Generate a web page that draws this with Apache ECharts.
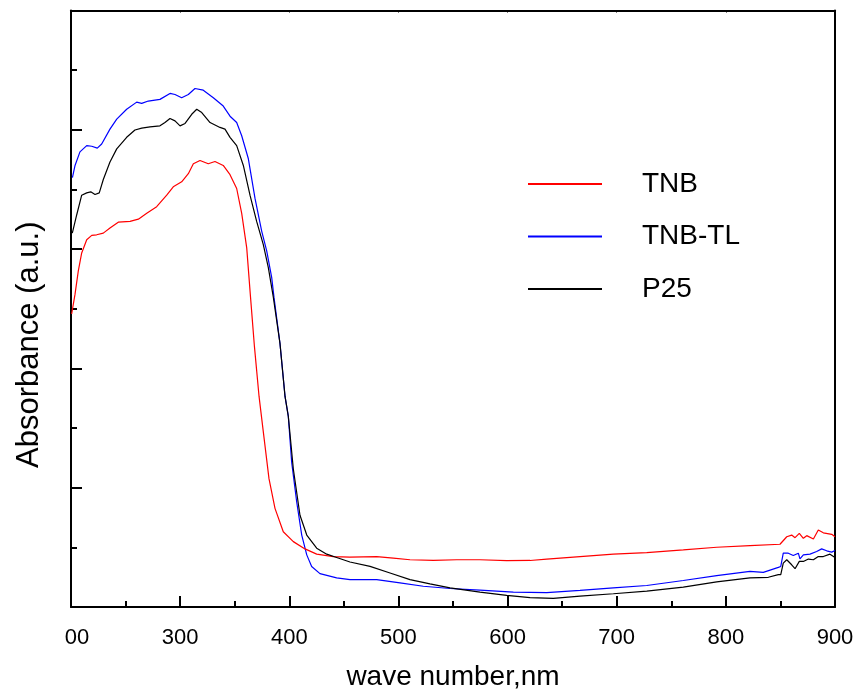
<!DOCTYPE html>
<html>
<head>
<meta charset="utf-8">
<script src="https://cdn.jsdelivr.net/npm/echarts@6/dist/echarts.min.js"></script>
<style>
html,body{margin:0;padding:0;background:#fff;}
#chart{width:858px;height:696px;}
</style>
</head>
<body>
<div id="chart"></div>
<script>
// ---- Data (wavelength in nm, absorbance in arbitrary units) ----
const seriesNames = ['TNB', 'TNB-TL', 'P25'];
const xTickLabels = ['00', '300', '400', '500', '600', '700', '800', '900'];

const wlTNB = [200.6,203.7,206.7,209.8,214.4,219.0,223.5,229.6,235.7,243.3,254.1,261.7,269.4,278.5,287.7,293.7,301.4,307.5,312.1,318.2,325.8,331.9,339.5,345.7,351.8,356.4,361.0,364.5,368.1,372.3,375.9,381.4,386.9,394.5,403.7,414.4,425.1,440.3,455.6,480.1,495.3,510.6,532.0,553.4,574.7,599.2,620.6,635.9,666.4,696.9,727.5,761.0,791.6,822.1,849.6,855.8,860.3,863.4,867.3,871.0,874.1,880.2,884.7,889.3,897.0,900];
const absTNB = [2.456,2.622,2.817,2.968,3.079,3.115,3.120,3.134,3.176,3.226,3.232,3.251,3.300,3.356,3.452,3.522,3.564,3.632,3.715,3.743,3.715,3.734,3.701,3.624,3.508,3.300,3.010,2.595,2.180,1.765,1.491,1.076,0.827,0.631,0.548,0.487,0.443,0.423,0.418,0.423,0.410,0.396,0.390,0.396,0.396,0.388,0.390,0.402,0.423,0.443,0.456,0.479,0.501,0.515,0.526,0.589,0.603,0.581,0.617,0.576,0.598,0.570,0.645,0.622,0.609,0.589];

const wlTNBTL = [201.3,203.7,208.2,214.4,219.0,224.1,228.1,235.7,241.9,251.0,260.2,264.8,270.8,281.5,290.7,295.3,301.4,307.5,313.6,321.2,330.4,339.5,345.7,351.8,356.4,362.5,368.6,374.7,379.3,383.9,386.0,391.5,396.1,399.1,402.2,406.8,411.4,416.0,420.5,428.1,443.4,455.6,480.1,501.4,522.8,547.3,574.7,605.3,635.9,666.4,696.9,727.5,761.0,791.6,822.1,834.3,848.1,850.3,852.6,857.2,861.8,866.4,867.9,871.0,877.1,883.2,887.8,892.4,897.0,900];
const absTNBTL = [3.599,3.701,3.815,3.867,3.862,3.846,3.881,4.006,4.089,4.172,4.232,4.222,4.241,4.255,4.305,4.296,4.269,4.296,4.346,4.332,4.269,4.199,4.114,4.061,3.950,3.757,3.425,3.151,2.985,2.761,2.595,2.207,1.765,1.599,1.212,0.880,0.603,0.437,0.340,0.280,0.244,0.230,0.230,0.202,0.174,0.155,0.141,0.124,0.120,0.139,0.161,0.180,0.222,0.263,0.299,0.290,0.332,0.340,0.451,0.451,0.432,0.451,0.404,0.437,0.443,0.465,0.487,0.471,0.460,0.473];

const wlP25 = [201.2,205.2,209.8,214.4,218.1,222.0,225.9,229.6,235.7,241.9,251.0,258.6,264.8,272.4,281.5,286.1,290.7,295.3,299.9,304.5,310.6,315.2,319.8,327.4,336.5,341.1,345.7,351.8,357.9,364.0,370.1,376.2,380.8,385.4,391.5,396.1,399.1,403.7,409.8,416.0,425.1,434.3,443.4,455.6,474.0,492.3,510.6,528.9,547.3,574.7,599.2,620.6,641.9,666.4,696.9,727.5,761.0,791.6,822.1,838.9,848.1,850.3,852.6,855.8,860.3,863.4,867.3,871.0,875.6,880.2,884.7,889.3,895.4,900];
const absP25 = [3.134,3.286,3.452,3.471,3.480,3.458,3.471,3.583,3.730,3.840,3.937,3.998,4.014,4.025,4.033,4.061,4.095,4.075,4.033,4.053,4.130,4.172,4.144,4.061,4.020,4.006,3.937,3.867,3.701,3.452,3.232,3.037,2.844,2.595,2.207,1.765,1.599,1.157,0.769,0.603,0.493,0.443,0.415,0.377,0.340,0.285,0.230,0.194,0.161,0.124,0.097,0.078,0.072,0.091,0.111,0.133,0.166,0.211,0.244,0.249,0.271,0.271,0.368,0.396,0.354,0.321,0.382,0.382,0.402,0.396,0.423,0.423,0.443,0.415];

const seriesColors = ['#ff0000', '#0000ff', '#000000'];

function pairs(xs, ys) { return xs.map((x, i) => [x, ys[i]]); }

const chart = echarts.init(document.getElementById('chart'), null, {renderer: 'canvas'});
const FONT = 'Liberation Sans, Arial, sans-serif';
const axisLineStyle = {color: '#000', width: 2};

const option = {
  backgroundColor: '#fff',
  animation: false,
  grid: {left: 71, right: 23, top: 10.5, bottom: 83.5, containLabel: false},
  legend: {
    orient: 'vertical',
    left: 528,
    top: 166,
    padding: 0,
    icon: 'rect',
    itemWidth: 74,
    itemHeight: 2,
    itemGap: 16.5,
    data: seriesNames,
    textStyle: {fontFamily: FONT, fontSize: 28, color: '#000', lineHeight: 30, padding: [6, 0, 0, 35]}
  },
  xAxis: [{
    type: 'value',
    min: 200, max: 900, interval: 100,
    name: 'wave number,nm',
    nameLocation: 'middle',
    nameGap: 56,
    nameTextStyle: {fontFamily: FONT, fontSize: 28, color: '#000'},
    axisLine: {show: true, onZero: false, lineStyle: axisLineStyle},
    axisTick: {show: true, inside: true, length: 11, lineStyle: {color: '#000', width: 2}},
    minorTick: {show: true, splitNumber: 2, length: 6, lineStyle: {color: '#000', width: 2}},
    axisLabel: {
      margin: 20,
      fontFamily: FONT, fontSize: 22, color: '#000',
      formatter: function (v) {
        const idx = Math.round((v - 200) / 100);
        const t = xTickLabels[idx];
        return idx === 0 ? '{f|' + t + '}' : t;
      },
      rich: {f: {fontFamily: FONT, fontSize: 22, color: '#000', padding: [0, 0, 0, 12]}}
    },
    splitLine: {show: false}
  }, {
    type: 'value',
    position: 'top',
    min: 200, max: 900, interval: 100,
    axisLine: {show: true, onZero: false, lineStyle: axisLineStyle},
    axisTick: {show: true, inside: true, length: 2, lineStyle: {color: '#000', width: 1}},
    axisLabel: {show: false},
    splitLine: {show: false}
  }],
  yAxis: [{
    type: 'value',
    min: 0, max: 5, interval: 1,
    name: 'Absorbance (a.u.)',
    nameLocation: 'middle',
    nameGap: 26,
    nameTextStyle: {fontFamily: FONT, fontSize: 31, color: '#000', padding: [0, 72, 0, 0]},
    axisLine: {show: true, onZero: false, lineStyle: axisLineStyle},
    axisTick: {show: true, inside: true, length: 11, lineStyle: {color: '#000', width: 2}},
    minorTick: {show: true, splitNumber: 2, length: 6, lineStyle: {color: '#000', width: 2}},
    axisLabel: {show: false},
    splitLine: {show: false}
  }, {
    type: 'value',
    position: 'right',
    min: 0, max: 5, interval: 1,
    axisLine: {show: true, onZero: false, lineStyle: axisLineStyle},
    axisTick: {show: false},
    axisLabel: {show: false},
    splitLine: {show: false}
  }],
  series: [
    {name: seriesNames[0], type: 'line', data: pairs(wlTNB, absTNB), showSymbol: false, symbol: 'none',
     lineStyle: {color: seriesColors[0], width: 1.2}, itemStyle: {color: seriesColors[0]}, z: 3},
    {name: seriesNames[1], type: 'line', data: pairs(wlTNBTL, absTNBTL), showSymbol: false, symbol: 'none',
     lineStyle: {color: seriesColors[1], width: 1.2}, itemStyle: {color: seriesColors[1]}, z: 2},
    {name: seriesNames[2], type: 'line', data: pairs(wlP25, absP25), showSymbol: false, symbol: 'none',
     lineStyle: {color: seriesColors[2], width: 1.2}, itemStyle: {color: seriesColors[2]}, z: 4}
  ]
};
chart.setOption(option);
</script>
</body>
</html>
